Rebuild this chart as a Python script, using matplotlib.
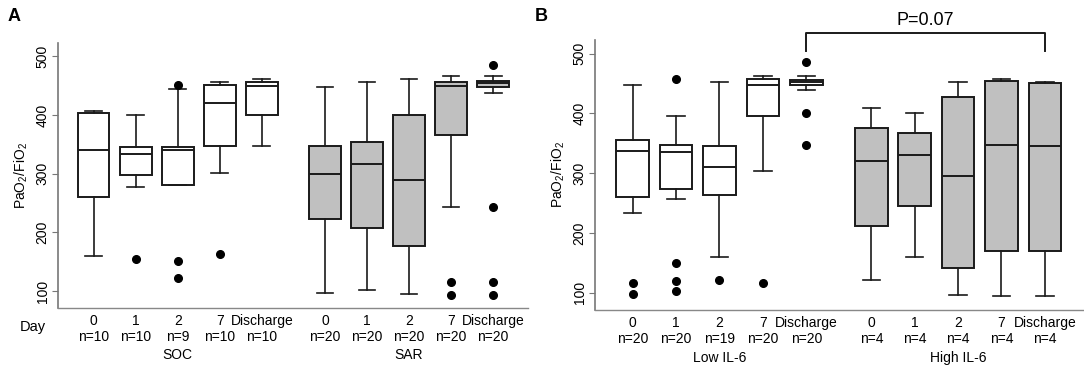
import matplotlib
matplotlib.use("Agg")
import matplotlib.pyplot as plt

plt.rcParams['font.family'] = ['Liberation Sans', 'DejaVu Sans']
plt.rcParams['mathtext.fontset'] = 'custom'
plt.rcParams['mathtext.rm'] = 'Liberation Sans'

days = ['0', '1', '2', '7', 'Discharge']

# five-number summaries: whisker low, Q1, median, Q3, whisker high
soc_stats = [(160, 260, 341, 404, 407), (277, 298, 334, 346, 400), (280, 280, 340, 346, 444),
             (302, 348, 421, 452, 457), (348, 400, 450, 457, 462)]
soc_out = [[], [155], [452, 151, 122], [163], []]
soc_n = ['n=10', 'n=10', 'n=9', 'n=10', 'n=10']

sar_stats = [(97, 223, 299, 348, 448), (102, 207, 316, 354, 457), (95, 176, 289, 400, 462),
             (244, 366, 450, 457, 467), (438, 448, 454, 459, 466)]
sar_out = [[], [], [], [116, 93], [486, 244, 116, 93]]
sar_n = ['n=20'] * 5

low_stats = [(233, 261, 337, 355, 448), (256, 273, 335, 347, 396), (159, 263, 310, 346, 453),
             (303, 395, 448, 458, 463), (439, 448, 452, 456, 462)]
low_out = [[117, 98], [458, 150, 119, 103], [122], [117], [486, 400, 348]]
low_n = ['n=20', 'n=20', 'n=19', 'n=20', 'n=20']

high_stats = [(121, 211, 320, 375, 409), (160, 245, 331, 367, 400), (96, 141, 296, 428, 453),
              (94, 169, 348, 455, 457), (94, 169, 346, 451, 453)]
high_out = [[], [], [], [], []]
high_n = ['n=4'] * 5

groups_A = ['SOC', 'SAR']
groups_B = ['Low IL-6', 'High IL-6']
p_text = 'P=0.07'

pos1 = [1, 2, 3, 4, 5]
pos2 = [6.5, 7.5, 8.5, 9.5, 10.5]


def make_stats(stats, outs):
    res = []
    for (lo, q1, med, q3, hi), fl in zip(stats, outs):
        res.append(dict(whislo=lo, q1=q1, med=med, q3=q3, whishi=hi, fliers=fl))
    return res


def draw_group(ax, stats, outs, pos, fill):
    ax.bxp(make_stats(stats, outs), positions=pos, widths=0.75, capwidths=0.4,
           patch_artist=True, showfliers=True,
           boxprops=dict(facecolor=fill, edgecolor='#1a1a1a', linewidth=1.4),
           medianprops=dict(color='#1a1a1a', linewidth=1.4),
           whiskerprops=dict(color='#1a1a1a', linewidth=1.2),
           capprops=dict(color='#1a1a1a', linewidth=1.2),
           flierprops=dict(marker='o', markerfacecolor='black', markeredgecolor='black',
                           markersize=5.5))


def style_axes(ax):
    ax.set_ylim(71, 523)
    for s in ['top', 'right']:
        ax.spines[s].set_visible(False)
    ax.spines['left'].set_color('#777777')
    ax.spines['bottom'].set_color('#888888')
    ax.spines['left'].set_linewidth(1.2)
    ax.spines['bottom'].set_linewidth(1.0)
    ax.set_yticks([100, 200, 300, 400, 500])
    ax.tick_params(axis='y', length=4, color='#777777', labelsize=10, pad=2)
    for lab in ax.get_yticklabels():
        lab.set_rotation(90)
        lab.set_va('center')
    ax.set_xticks([])
    ax.set_ylabel(r'PaO$_2$/FiO$_2$', fontsize=10, labelpad=4)


def x_labels(ax, pos, ns, group):
    for p, d, n in zip(pos, days, ns):
        ax.text(p, -0.022, d, transform=ax.get_xaxis_transform(), ha='center', va='top', fontsize=10)
        ax.text(p, -0.082, n, transform=ax.get_xaxis_transform(), ha='center', va='top', fontsize=10)
    ax.text(pos[2], -0.152, group, transform=ax.get_xaxis_transform(), ha='center', va='top', fontsize=10)


fig = plt.figure(figsize=(10.84, 3.65), dpi=100)
axA = fig.add_axes([58 / 1084, 1 - 308 / 365, (528 - 58) / 1084, (308 - 43) / 365])
axB = fig.add_axes([595 / 1084, 1 - 310 / 365, (1083 - 595) / 1084, (310 - 40) / 365])

draw_group(axA, soc_stats, soc_out, pos1, 'white')
draw_group(axA, sar_stats, sar_out, pos2, '#c0c0c0')
style_axes(axA)
axA.set_xlim(0.15, 11.33)
x_labels(axA, pos1, soc_n, groups_A[0])
x_labels(axA, pos2, sar_n, groups_A[1])
axA.text(-0.025, -0.045, 'Day', transform=axA.transAxes, ha='right', va='top', fontsize=10.5)

draw_group(axB, low_stats, low_out, pos1, 'white')
draw_group(axB, high_stats, high_out, pos2, '#c0c0c0')
style_axes(axB)
axB.set_xlim(0.13, 11.38)
x_labels(axB, pos1, low_n, groups_B[0])
x_labels(axB, pos2, high_n, groups_B[1])

# significance bracket between the two discharge boxes
axB.plot([pos1[4], pos1[4], pos2[4], pos2[4]], [504, 534, 534, 504], color='#1a1a1a',
         linewidth=1.4, clip_on=False)
axB.text((pos1[4] + pos2[4]) / 2, 541, p_text, ha='center', va='bottom', fontsize=13)

fig.text(8 / 1084, 1 - 8 / 365, 'A', fontsize=13, fontweight='bold', ha='left', va='top')
fig.text(535 / 1084, 1 - 8 / 365, 'B', fontsize=13, fontweight='bold', ha='left', va='top')

fig.savefig('out.png', dpi=100)
